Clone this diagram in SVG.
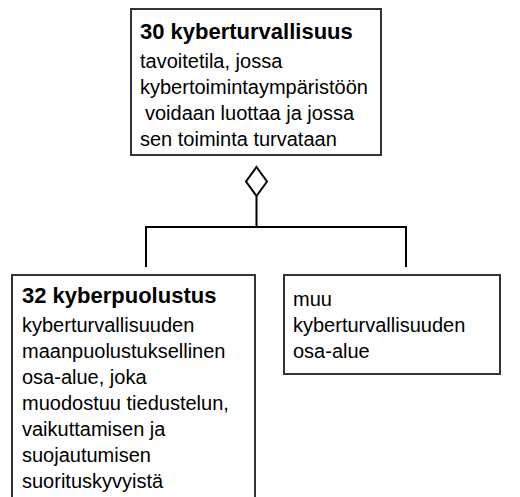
<svg xmlns="http://www.w3.org/2000/svg" width="520" height="497" viewBox="0 0 520 497">
<style>
.box{fill:#fff;stroke:#333;stroke-width:2}
.t{font-family:"Liberation Sans",Arial,sans-serif;font-size:20px;fill:#000}
.b{font-weight:bold;font-size:22px}
.c{fill:none;stroke:#000;stroke-width:2}
</style>
<g id="n30">
<rect class="box" x="131" y="9" width="250" height="146"/>
<text class="t b" x="140" y="39">30 kyberturvallisuus</text>
<text class="t" x="140" y="68">tavoitetila, jossa</text>
<text class="t" x="140" y="94">kybertoimintaympäristöön</text>
<text class="t" x="145" y="120">voidaan luottaa ja jossa</text>
<text class="t" x="140" y="146">sen toiminta turvataan</text>
</g>
<g id="connectors">
<path class="c" d="M256.5,167 L267,181.5 L256.5,196 L246,181.5 Z"/>
<path class="c" d="M256.5,196 V227 M146,267 V227 H406 V267"/>
</g>
<g id="n32">
<rect class="box" x="12" y="275" width="243" height="240"/>
<text class="t b" x="22" y="303">32 kyberpuolustus</text>
<text class="t" x="22" y="332">kyberturvallisuuden</text>
<text class="t" x="22" y="358">maanpuolustuksellinen</text>
<text class="t" x="22" y="384">osa-alue, joka</text>
<text class="t" x="22" y="410">muodostuu tiedustelun,</text>
<text class="t" x="22" y="436">vaikuttamisen ja</text>
<text class="t" x="22" y="462">suojautumisen</text>
<text class="t" x="22" y="488">suorituskyvyistä</text>
</g>
<g id="muu">
<rect class="box" x="284" y="275" width="216" height="99"/>
<text class="t" x="293" y="306">muu</text>
<text class="t" x="293" y="332">kyberturvallisuuden</text>
<text class="t" x="293" y="358">osa-alue</text>
</g>
</svg>
